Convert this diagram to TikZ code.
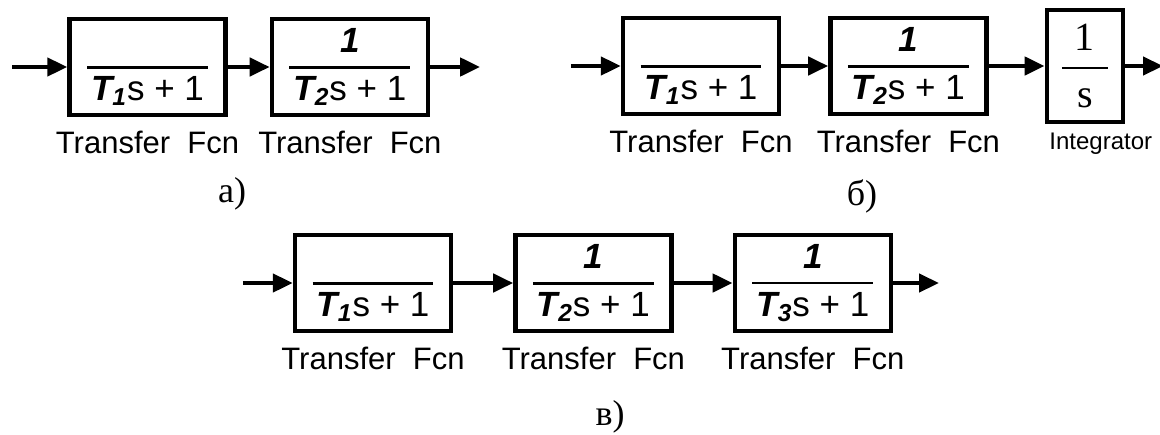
\documentclass[tikz,border=0pt]{standalone}
\usepackage{fontspec}
\setmainfont{Liberation Serif}
\setsansfont{Liberation Sans}
\usetikzlibrary{arrows.meta, positioning}

\newcommand{\bi}[1]{\textbf{\textit{#1}}}
% fraction of a transfer block: numerator, index of T
\newcommand{\tfcn}[2]{$\displaystyle{\hbox{\vphantom{\bi{1}}\bi{#1}} \above 1.3pt \hbox{\kern2pt\bi{T\textsubscript{#2}}s + 1\kern2pt}}$}

\begin{document}
\begin{tikzpicture}[
    x=0.5pt, y=-0.5pt,
    block/.style={draw, line width=2.2pt, minimum width=78pt, minimum height=48pt, inner sep=0pt, font=\sffamily\fontsize{17.5}{19}\selectfont},
    lbl/.style={font=\sffamily\fontsize{15.5}{17}\selectfont, inner sep=0pt},
    subcap/.style={font=\rmfamily\fontsize{18}{20}\selectfont, inner sep=0pt},
    sig/.style={line width=2.2pt, -{Triangle[length=10pt, width=9pt]}}
]
  \useasboundingbox (0,0) rectangle (1160,434);

  % a) two lags
  \node[block] (a1) at (147.5,67) {\tfcn{}{1}};
  \node[block, right=21pt of a1] (a2) {\tfcn{1}{2}};
  \coordinate[left=27.5pt of a1] (a0);
  \coordinate[right=25pt of a2] (a3);
  \draw[sig] (a0) -- (a1);
  \draw[sig] (a1) -- (a2);
  \draw[sig] (a2) -- (a3);
  \node[lbl, below=6.5pt of a1] (la1) {Transfer\ \ Fcn};
  \node[lbl, below=6.5pt of a2] (la2) {Transfer\ \ Fcn};
  \node[subcap] (ca) at (232,194) {а)};

  % b) two lags and integrator
  \node[block] (b1) at (701,66) {\tfcn{}{1}};
  \node[block, right=23.5pt of b1] (b2) {\tfcn{1}{2}};
  \node[block, minimum width=38pt, minimum height=56pt, right=28pt of b2,
        font=\rmfamily\fontsize{20}{22}\selectfont] (b3) {$\displaystyle{\hbox to 23pt{\hss 1\hss} \above 1pt \hbox{s}}$};
  \coordinate[left=25pt of b1] (b0);
  \coordinate[right=19pt of b3] (b4);
  \draw[sig] (b0) -- (b1);
  \draw[sig] (b1) -- (b2);
  \draw[sig] (b2) -- (b3);
  \draw[sig] (b3) -- (b4);
  \node[lbl, below=6.5pt of b1] (lb1) {Transfer\ \ Fcn};
  \node[lbl, below=6.5pt of b2] (lb2) {Transfer\ \ Fcn};
  \node[lbl, font=\sffamily\fontsize{12}{14}\selectfont, below=4pt of b3, xshift=8pt] (lb3) {Integrator};
  \node[subcap] (cb) at (862,196) {б)};

  % c) three lags
  \node[block] (c1) at (373,283) {\tfcn{}{1}};
  \node[block, right=30pt of c1] (c2) {\tfcn{1}{2}};
  \node[block, right=29.5pt of c2] (c3) {\tfcn{1}{3}};
  \coordinate[left=25pt of c1] (c0);
  \coordinate[right=23pt of c3] (c4);
  \draw[sig] (c0) -- (c1);
  \draw[sig] (c1) -- (c2);
  \draw[sig] (c2) -- (c3);
  \draw[sig] (c3) -- (c4);
  \node[lbl, below=6.5pt of c1] (lc1) {Transfer\ \ Fcn};
  \node[lbl, below=6.5pt of c2] (lc2) {Transfer\ \ Fcn};
  \node[lbl, below=6.5pt of c3] (lc3) {Transfer\ \ Fcn};
  \node[subcap] (cc) at (610,417) {в)};

\end{tikzpicture}
\end{document}
